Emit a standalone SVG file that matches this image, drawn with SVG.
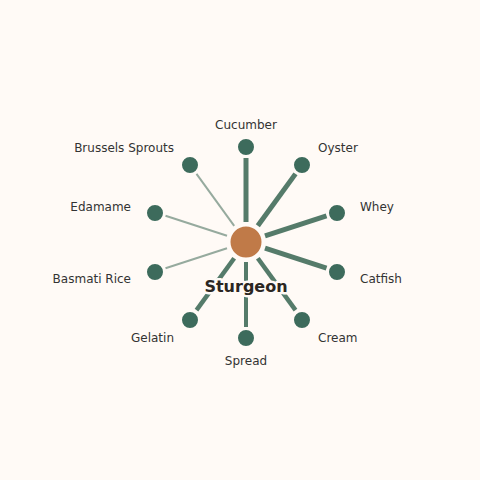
<svg xmlns="http://www.w3.org/2000/svg" width="480" height="480" viewBox="0 0 480 480">
<style>
text{font-family:"DejaVu Sans","Liberation Sans",sans-serif;font-size:12px;fill:#333}
.strong{stroke:#557b6a;stroke-width:5;stroke-linecap:butt}
.weak{stroke:#96aa9e;stroke-width:2}
.leaf{fill:#3d6b5c;stroke:#fffaf6;stroke-width:2}
.hub{fill:#c07a48;stroke:#fffaf6;stroke-width:3}
.title{font-size:16px;font-weight:bold;fill:#2b2622;stroke:#fffaf6;stroke-width:5;paint-order:stroke;stroke-linejoin:round}
</style>
<rect width="480" height="480" fill="#fffaf6"/>
<g id="connectors">
<line class="strong" x1="246" y1="222" x2="246" y2="158"/>
<line class="strong" x1="257.8" y1="225.8" x2="295.5" y2="173.9"/>
<line class="strong" x1="265" y1="235.8" x2="326.5" y2="215.8"/>
<line class="strong" x1="265" y1="248.2" x2="326.5" y2="268.2"/>
<line class="strong" x1="257.8" y1="258.2" x2="295.5" y2="310.1" style="stroke-width:4.5"/>
<line class="strong" x1="246" y1="262" x2="246" y2="327" style="stroke-width:4"/>
<line class="strong" x1="234.2" y1="258.2" x2="196.5" y2="310.1" style="stroke-width:4.5"/>
<line class="weak" x1="227" y1="248.2" x2="165.5" y2="268.2"/>
<line class="weak" x1="227" y1="235.8" x2="165.5" y2="215.8"/>
<line class="weak" x1="234.2" y1="225.8" x2="196.5" y2="173.9"/>
</g>
<g id="n-cucumber"><circle class="leaf" cx="246" cy="147" r="9"/><text x="246" y="129" text-anchor="middle">Cucumber</text></g>
<g id="n-oyster"><circle class="leaf" cx="302" cy="165" r="9"/><text x="318" y="152">Oyster</text></g>
<g id="n-whey"><circle class="leaf" cx="337" cy="213" r="9"/><text x="360" y="211">Whey</text></g>
<g id="n-catfish"><circle class="leaf" cx="337" cy="272" r="9"/><text x="360" y="283">Catfish</text></g>
<g id="n-cream"><circle class="leaf" cx="302" cy="320" r="9"/><text x="318" y="342">Cream</text></g>
<g id="n-spread"><circle class="leaf" cx="246" cy="338" r="9"/><text x="246" y="365" text-anchor="middle">Spread</text></g>
<g id="n-gelatin"><circle class="leaf" cx="190" cy="320" r="9"/><text x="174" y="342" text-anchor="end">Gelatin</text></g>
<g id="n-basmati"><circle class="leaf" cx="155" cy="272" r="9"/><text x="131" y="283" text-anchor="end">Basmati Rice</text></g>
<g id="n-edamame"><circle class="leaf" cx="155" cy="213" r="9"/><text x="131" y="211" text-anchor="end">Edamame</text></g>
<g id="n-brussels"><circle class="leaf" cx="190" cy="165" r="9"/><text x="174" y="152" text-anchor="end">Brussels Sprouts</text></g>
<g id="n-sturgeon"><circle class="hub" cx="246" cy="242" r="17"/><text class="title" x="246" y="292" text-anchor="middle">Sturgeon</text></g>
</svg>
